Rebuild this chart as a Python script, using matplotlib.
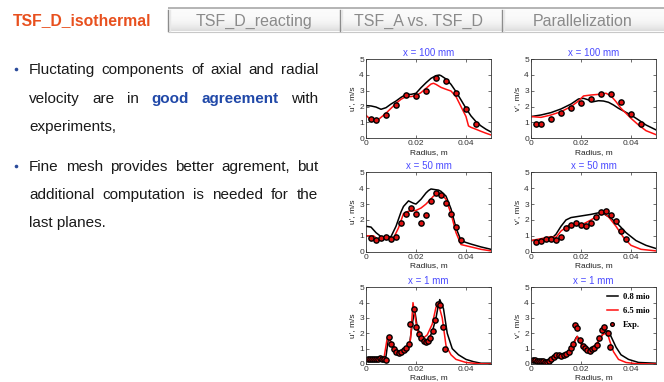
import matplotlib
matplotlib.use("Agg")
import matplotlib.pyplot as plt
import numpy as np

plt.rcParams['font.family'] = ['Liberation Sans', 'DejaVu Sans']

# ---------------- data ----------------
tab_names = ["TSF_D_isothermal", "TSF_D_reacting", "TSF_A vs. TSF_D", "Parallelization"]

panel_titles = ["x = 100 mm", "x = 100 mm", "x = 50 mm", "x = 50 mm", "x = 1 mm", "x = 1 mm"]
panel_ylabels = ["u', m/s", "v', m/s", "u', m/s", "v', m/s", "u', m/s", "v', m/s"]
legend_labels = ["0.8 mio", "6.5 mio", "Exp."]

# x = 100 mm, axial
r_u100_c = [0, .002, .004, .006, .008, .010, .012, .014, .016, .018, .020, .022, .024, .026, .028,
            .0293, .030, .032, .034, .036, .038, .040, .042, .044, .046, .048, .050]
u100_coarse = [2.06, 2.04, 1.97, 1.83, 1.93, 2.16, 2.35, 2.58, 2.77, 2.77, 2.84, 3.19, 3.50, 3.78, 3.95,
               3.99, 3.95, 3.74, 3.40, 2.94, 2.42, 1.89, 1.41, 1.05, 0.78, 0.57, 0.40]
r_u100_f = [0, .002, .004, .006, .008, .010, .012, .014, .016, .018, .020, .022, .024, .026, .027, .028,
            .030, .032, .034, .036, .038, .040, .041, .042, .044, .046, .048, .050]
u100_fine = [1.45, 1.16, 1.05, 1.32, 1.58, 1.89, 2.20, 2.46, 2.63, 2.63, 2.69, 2.88, 3.15, 3.42, 3.47, 3.40,
             3.21, 3.09, 2.98, 2.63, 2.00, 1.37, 0.78, 0.69, 0.57, 0.44, 0.32, 0.21]
r_u100_e = [.002, .004, .008, .012, .016, .020, .024, .028, .032, .036, .040, .044]
u100_exp = [1.22, 1.13, 1.45, 2.10, 2.73, 2.69, 2.98, 3.78, 3.59, 2.84, 1.85, 0.90]

# x = 100 mm, radial
r_v100_c = [0, .004, .008, .012, .016, .019, .021, .023, .025, .027, .029, .031, .033, .035, .037,
            .040, .043, .046, .050]
v100_coarse = [1.37, 1.47, 1.62, 1.85, 2.16, 2.48, 2.52, 2.42, 2.31, 2.37, 2.35, 2.27, 2.10, 1.89, 1.72,
               1.47, 1.16, 0.84, 0.53]
r_v100_f = [0, .004, .008, .012, .016, .019, .021, .024, .027, .030, .032, .034, .036, .038, .040,
            .043, .046, .050]
v100_fine = [1.37, 1.32, 1.47, 1.68, 2.00, 2.35, 2.67, 2.73, 2.77, 2.84, 2.67, 2.31, 1.89, 1.58, 1.26,
             0.84, 0.48, 0.23]
r_v100_e = [.002, .004, .008, .012, .016, .020, .024, .028, .032, .036, .040, .044]
v100_exp = [0.88, 0.90, 1.24, 1.58, 1.91, 2.25, 2.48, 2.82, 2.77, 2.27, 1.55, 0.92]

# x = 50 mm, axial
r_u50_c = [0, .002, .004, .006, .008, .010, .012, .014, .015, .017, .019, .020, .022, .024, .025, .026,
           .028, .029, .030, .032, .034, .036, .038, .040, .042, .046, .050]
u50_coarse = [1.60, 1.55, 1.20, 0.95, 0.93, 0.95, 1.60, 2.50, 2.85, 3.20, 3.05, 3.00, 3.30, 3.70, 3.85,
              3.95, 3.90, 3.88, 3.80, 3.50, 2.70, 1.50, 0.70, 0.58, 0.48, 0.30, 0.15]
r_u50_f = [0, .003, .005, .008, .011, .013, .015, .017, .020, .022, .024, .027, .029, .030, .032, .034,
           .036, .038, .042, .046, .050]
u50_fine = [1.00, 1.00, 0.75, 0.80, 0.85, 1.50, 2.40, 2.55, 2.60, 2.75, 3.00, 3.50, 3.70, 3.65, 3.30, 2.40,
            1.20, 0.45, 0.30, 0.15, 0.05]
r_u50_e = [.002, .004, .006, .008, .010, .012, .014, .016, .018, .020, .022, .024, .026, .028, .030,
           .032, .034, .036, .038]
u50_exp = [0.84, 0.71, 0.84, 0.90, 0.82, 0.95, 1.83, 2.37, 2.77, 2.40, 1.83, 2.33, 3.21, 3.70, 3.57,
           3.07, 2.40, 1.55, 0.76]

# x = 50 mm, radial
r_v50_c = [0, .005, .009, .010, .012, .014, .016, .020, .024, .027, .029, .032, .035, .038, .042,
           .046, .050]
v50_coarse = [0.70, 0.75, 0.95, 1.10, 1.60, 2.00, 2.15, 2.25, 2.35, 2.45, 2.40, 2.10, 1.70, 1.20, 0.70,
              0.40, 0.20]
r_v50_f = [0, .005, .008, .010, .012, .015, .018, .021, .024, .027, .029, .031, .034, .037, .040,
           .044, .050]
v50_fine = [0.70, 0.85, 0.95, 0.90, 1.30, 1.65, 1.70, 1.75, 2.00, 2.30, 2.45, 2.20, 1.60, 0.90, 0.40,
            0.15, 0.05]
r_v50_e = [.002, .004, .006, .008, .010, .012, .014, .016, .018, .020, .022, .024, .026, .028, .030,
           .032, .034, .036, .038]
v50_exp = [0.63, 0.67, 0.82, 0.78, 0.71, 0.92, 1.51, 1.66, 1.83, 1.70, 1.62, 1.79, 2.16, 2.48, 2.56,
           2.33, 1.91, 1.30, 0.80]

# x = 1 mm, axial
r_u1_c = [0, .003, .007, .008, .009, .0105, .012, .0135, .015, .0165, .0175, .0185, .0195, .0205, .022,
          .024, .025, .0265, .028, .029, .0295, .031, .0325, .0345, .037, .040, .043, .046, .050]
u1_coarse = [0.30, 0.30, 0.30, 0.50, 1.70, 1.30, 0.90, 0.70, 0.85, 1.10, 1.40, 2.60, 3.50, 2.40, 1.80,
             1.50, 1.60, 2.10, 3.00, 3.90, 4.20, 3.60, 2.00, 1.00, 0.60, 0.30, 0.15, 0.05, 0.05]
r_u1_f = [0, .003, .007, .0085, .0105, .012, .0135, .015, .0165, .0178, .0188, .020, .021, .022, .0245,
          .0265, .028, .029, .0305, .032, .034, .036, .040, .045, .050]
u1_fine = [0.20, 0.20, 0.20, 1.70, 1.30, 0.90, 0.70, 0.80, 1.10, 1.60, 4.00, 2.70, 1.90, 1.55, 1.90,
           2.60, 3.70, 3.90, 3.00, 1.20, 0.60, 0.30, 0.10, 0.02, 0.00]
r_u1_e = [.0008, .0016, .0024, .0032, .0040, .0048, .0056, .0064, .0072, .0080, .0090, .0100, .0110,
          .0120, .0130, .0140, .0150, .0160, .0170, .0177, .0190, .0198, .0210, .0220, .0230, .0240,
          .0247, .0257, .0267, .0277, .0286, .0297, .0306, .0317]
u1_exp = [0.30, 0.32, 0.30, 0.33, 0.35, 0.33, 0.36, 0.34, 0.35, 0.26, 1.76, 1.33, 0.98, 0.76, 0.70,
          0.76, 0.91, 1.07, 1.28, 2.59, 3.57, 2.43, 1.93, 1.67, 1.52, 1.41, 1.50, 1.72, 2.17, 2.87,
          3.89, 3.85, 2.43, 0.96]

# x = 1 mm, radial
r_v1_c = [0, .004, .008, .009, .010, .012, .014, .015, .0165, .018, .0185, .020, .0215, .023, .025,
          .0265, .028, .0295, .031, .032, .034, .036, .039, .043, .050]
v1_coarse = [0.20, 0.20, 0.22, 0.40, 0.60, 0.55, 0.60, 0.80, 1.20, 1.70, 1.80, 1.40, 1.05, 0.95, 1.05,
             1.30, 1.75, 2.15, 2.15, 1.80, 1.10, 0.60, 0.30, 0.10, 0.05]
r_v1_f = [0, .004, .008, .0095, .011, .013, .015, .0168, .0185, .020, .0215, .023, .025, .0265, .0285,
          .0305, .0315, .033, .035, .038, .042, .050]
v1_fine = [0.15, 0.15, 0.17, 0.50, 0.60, 0.55, 0.70, 1.20, 1.80, 1.30, 1.00, 0.95, 1.10, 1.40, 1.90,
           2.05, 1.50, 0.80, 0.30, 0.10, 0.02, 0.00]
r_v1_e = [.0008, .0016, .0024, .0032, .0040, .0048, .0056, .0064, .0072, .0080, .0090, .0100, .0110,
          .0120, .0130, .0140, .0150, .0160, .0166, .0176, .0185, .0197, .0206, .0215, .0225, .0234,
          .0243, .0253, .0263, .0273, .0282, .0290, .0306, .0317]
v1_exp = [0.28, 0.25, 0.22, 0.20, 0.18, 0.17, 0.16, 0.15, 0.18, 0.30, 0.43, 0.59, 0.59, 0.54, 0.59,
          0.63, 0.76, 1.02, 1.33, 2.54, 2.37, 1.59, 1.17, 1.02, 0.93, 0.87, 0.96, 1.04, 1.26, 1.67,
          2.24, 2.43, 2.00, 1.09]

panels = [
    (r_u100_c, u100_coarse, r_u100_f, u100_fine, r_u100_e, u100_exp),
    (r_v100_c, v100_coarse, r_v100_f, v100_fine, r_v100_e, v100_exp),
    (r_u50_c, u50_coarse, r_u50_f, u50_fine, r_u50_e, u50_exp),
    (r_v50_c, v50_coarse, r_v50_f, v50_fine, r_v50_e, v50_exp),
    (r_u1_c, u1_coarse, r_u1_f, u1_fine, r_u1_e, u1_exp),
    (r_v1_c, v1_coarse, r_v1_f, v1_fine, r_v1_e, v1_exp),
]

# ---------------- figure ----------------
W, H = 664, 382
fig = plt.figure(figsize=(W / 100, H / 100), dpi=100)
fig.patch.set_facecolor("white")

# pixel-coordinate layer for the slide decoration
bg = fig.add_axes([0, 0, 1, 1])
bg.set_xlim(0, W)
bg.set_ylim(H, 0)
bg.axis("off")

# tab strip
grad = np.linspace(0, 1, 60)[:, None]
top_c = np.array([0.985, 0.985, 0.985])
bot_c = np.array([0.86, 0.86, 0.86])
cols = top_c + (bot_c - top_c) * grad[..., None] ** 3
cols = np.repeat(cols, 2, axis=1)
bg.imshow(cols, extent=[168, W, 31, 8], aspect="auto", interpolation="bilinear", zorder=0)
bg.plot([168, W], [7.5, 7.5], color="#a8a8a8", lw=1.2, solid_capstyle="butt")
bg.plot([168, W], [31.5, 31.5], color="#c8c8c8", lw=0.8, solid_capstyle="butt")
for xs in [168, 340, 502]:
    bg.plot([xs, xs], [10, 31], color="#8c8c8c", lw=1.0)
    bg.plot([xs + 1.5, xs + 1.5], [10, 31], color="#e8e8e8", lw=1.0)

tab_x = [82, 254, 419, 583]
for i, (name, tx) in enumerate(zip(tab_names, tab_x)):
    if i == 0:
        bg.text(tx, 21, name, ha="center", va="center", fontsize=11.3,
                fontweight="bold", color="#e8501e")
    else:
        bg.text(tx, 21, name, ha="center", va="center", fontsize=11.5,
                color="#8a8a8a")

# bullet text
renderer = fig.canvas.get_renderer()
body = dict(fontsize=11, color="#1a1a1a", va="baseline")
blue = dict(fontsize=11, color="#2048a8", va="baseline", fontweight="bold")


def justified(words, styles, y, x0=29, x1=318):
    objs = [bg.text(0, y, w, **s) for w, s in zip(words, styles)]
    widths = [o.get_window_extent(renderer).width for o in objs]
    gap = (x1 - x0 - sum(widths)) / (len(words) - 1)
    x = x0
    for o, w in zip(objs, widths):
        o.set_x(x)
        x += w + gap


line1 = "Fluctating components of axial and radial".split()
justified(line1, [body] * len(line1), 74.3)
line2 = ["velocity", "are", "in", "good", "agreement", "with"]
justified(line2, [body, body, body, blue, blue, body], 102.7)
bg.text(29, 130.7, "experiments,", **body)
line4 = "Fine mesh provides better agrement, but".split()
justified(line4, [body] * len(line4), 171)
line5 = "additional computation is needed for the".split()
justified(line5, [body] * len(line5), 199.3)
bg.text(29, 226.7, "last planes.", **body)

for by in [68.5, 165.5]:
    bg.plot([16], [by], "o", color="#2a4a9a", ms=2.6, mew=0)

# profile plots
col_left = [366 / W, 531 / W]
ax_w = 125 / W
row_tb = [(59, 138.3), (172.3, 251.7), (287.3, 364)]

for k, (rc, vc, rf, vf, re_, ve) in enumerate(panels):
    row, col = divmod(k, 2)
    top, bot = row_tb[row]
    ax = fig.add_axes([col_left[col], 1 - bot / H, ax_w, (bot - top) / H])
    l1, = ax.plot(rc, vc, color="black", lw=1.1)
    l2, = ax.plot(rf, vf, color="#ff1010", lw=1.1)
    l3, = ax.plot(re_, ve, "o", ms=3.8, mfc="#e01010", mec="black", mew=1.0, ls="none")
    ax.set_xlim(0, 0.05)
    ax.set_ylim(0, 5)
    ax.set_xticks([0, 0.02, 0.04])
    ax.set_xticklabels(["0", "0.02", "0.04"])
    ax.set_yticks([0, 1, 2, 3, 4, 5])
    ax.tick_params(direction="in", length=2, width=0.5, labelsize=6, pad=1.5,
                   top=True, right=True, colors="#333333")
    for s in ax.spines.values():
        s.set_linewidth(0.6)
        s.set_color("#333333")
    ax.set_title(panel_titles[k], fontsize=7, color="#4a4aff", pad=2.5)
    ax.set_xlabel("Radius, m", fontsize=6, labelpad=1, color="#222222")
    ax.set_ylabel(panel_ylabels[k], fontsize=6, labelpad=2, color="#222222")
    if k == 5:
        ax.legend([l1, l2, l3], legend_labels, loc="upper right", frameon=False,
                  prop={"family": "Liberation Serif", "weight": "bold", "size": 6.2},
                  handlelength=1.3, handletextpad=0.6, labelspacing=0.7,
                  borderaxespad=0.3, markerscale=0.7)

fig.savefig("out.png", dpi=100, facecolor="white")
